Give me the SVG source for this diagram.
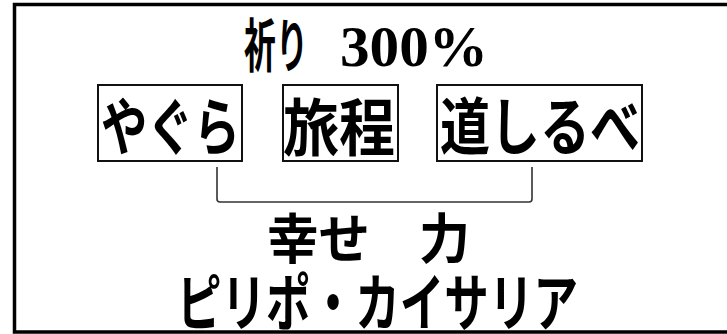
<svg xmlns="http://www.w3.org/2000/svg" width="727" height="334" viewBox="0 0 727 334">
<style>
.jp{font-family:"Noto Sans CJK JP","Noto Sans CJK SC",sans-serif;font-weight:700;fill:#000}
.num{font-family:"Liberation Serif",serif;font-weight:700;fill:#000}
.box{fill:#fff;stroke:#111;stroke-width:2}
.frame{fill:none;stroke:#000;stroke-width:3.5}
.link{fill:none;stroke:#333;stroke-width:1.6}
</style>
<rect width="727" height="334" fill="#fff"/>
<path class="frame" d="M740,4.5 H14.5 V332 H740"/>
<g id="title">
<text class="jp" x="244" y="67" font-size="58" textLength="64" lengthAdjust="spacingAndGlyphs">祈り</text>
<text class="num" x="340" y="66" font-size="58" textLength="148" lengthAdjust="spacingAndGlyphs">300%</text>
</g>
<g id="yagura">
<rect class="box" x="98" y="85" width="144" height="76"/>
<text class="jp" x="101" y="150" font-size="62" textLength="139" lengthAdjust="spacingAndGlyphs">やぐら</text>
</g>
<g id="ryotei">
<rect class="box" x="283" y="85" width="115" height="76"/>
<text class="jp" x="283" y="151" font-size="62" textLength="112" lengthAdjust="spacingAndGlyphs">旅程</text>
</g>
<g id="michishirube">
<rect class="box" x="437" y="85" width="205" height="76"/>
<text class="jp" x="440" y="150" font-size="62" textLength="200" lengthAdjust="spacingAndGlyphs">道しるべ</text>
</g>
<g id="connectors">
<path class="link" d="M217,167 V199 Q217,202 220,202 H529 Q532,202 532,199 V167"/>
</g>
<g id="shiawase">
<text class="jp" y="259" font-size="54"><tspan x="267" textLength="103" lengthAdjust="spacingAndGlyphs">幸せ</tspan> <tspan x="419" textLength="51" lengthAdjust="spacingAndGlyphs">力</tspan></text>
</g>
<g id="philippi">
<text class="jp" x="177" y="326" font-size="62" textLength="401" lengthAdjust="spacingAndGlyphs">ピリポ・カイサリア</text>
</g>
</svg>
